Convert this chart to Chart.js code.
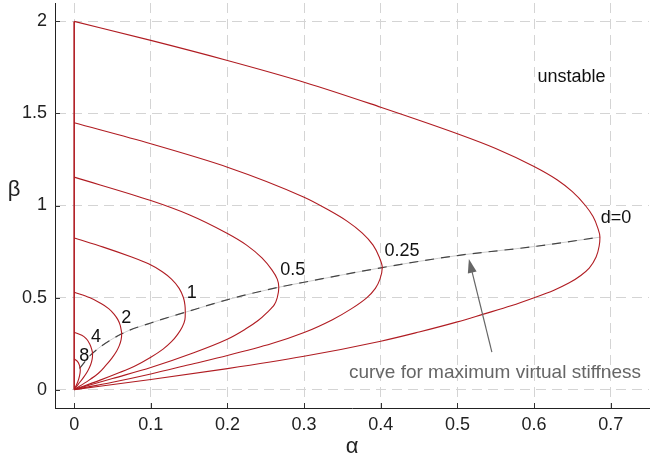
<!DOCTYPE html>
<html>
<head>
<meta charset="utf-8">
<script src="https://cdn.jsdelivr.net/npm/chart.js@4.4.1/dist/chart.umd.min.js"></script>
<style>
    body { margin: 0; background: #fff; }
    #wrap { width: 653px; height: 459px; }
</style>
</head>
<body>
<div id="wrap"><canvas id="stabChart" width="653" height="459"></canvas></div>
<script>
// Stability boundaries in the (alpha, beta) plane, one curve per damping d
// points: [alpha, beta], ordered from the top of each curve down

const curveD0 = [[0, 2.0], [0.1, 1.897], [0.2, 1.788], [0.3, 1.67], [0.4, 1.534], [0.5, 1.39],
    [0.55, 1.31], [0.6, 1.212], [0.63, 1.14], [0.65, 1.075], [0.667, 1.0], [0.677, 0.94],
    [0.683, 0.88], [0.686, 0.828], [0.685, 0.78], [0.681, 0.72], [0.672, 0.66], [0.661, 0.62],
    [0.646, 0.58], [0.626, 0.54], [0.601, 0.5], [0.57, 0.455], [0.534, 0.41], [0.5, 0.368],
    [0.45, 0.313], [0.4, 0.263], [0.3, 0.181], [0.2, 0.114], [0.1, 0.055], [0, 0]];
const curveD025 = [[0, 1.449], [0.1, 1.335], [0.2, 1.208], [0.3, 1.045], [0.332, 0.975],
    [0.356, 0.915], [0.376, 0.85], [0.39, 0.785], [0.398, 0.72], [0.402, 0.663], [0.399, 0.6],
    [0.393, 0.55], [0.382, 0.5], [0.362, 0.44], [0.337, 0.38], [0.3, 0.31], [0.258, 0.25],
    [0.2, 0.185], [0.15, 0.135], [0.1, 0.085], [0.05, 0.04], [0, 0]];
const curveD05 = [[0, 1.154], [0.1, 1.027], [0.15, 0.95], [0.2, 0.848], [0.225, 0.785],
    [0.245, 0.715], [0.258, 0.65], [0.265, 0.6], [0.267, 0.556], [0.265, 0.5], [0.261, 0.46],
    [0.252, 0.42], [0.24, 0.375], [0.224, 0.33], [0.199, 0.272], [0.156, 0.2], [0.1, 0.12],
    [0.05, 0.06], [0, 0]];
const curveD1 = [[0, 0.823], [0.038, 0.774], [0.075, 0.72], [0.097, 0.683], [0.115, 0.64],
    [0.127, 0.6], [0.137, 0.55], [0.1425, 0.5], [0.1445, 0.46], [0.145, 0.42], [0.1445, 0.38],
    [0.141, 0.34], [0.135, 0.3], [0.127, 0.26], [0.116, 0.22], [0.1, 0.176], [0.08, 0.13],
    [0.06, 0.094], [0.033, 0.05], [0, 0]];
const curveD2 = [[0, 0.529], [0.02, 0.5], [0.034, 0.47], [0.045, 0.44], [0.052, 0.41],
    [0.057, 0.38], [0.06, 0.35], [0.0615, 0.32], [0.062, 0.303], [0.0612, 0.27], [0.059, 0.24],
    [0.0555, 0.21], [0.049, 0.17], [0.041, 0.13], [0.032, 0.09], [0.019, 0.05], [0, 0]];
const curveD4 = [[0, 0.311], [0.01, 0.295], [0.016, 0.275], [0.02, 0.25], [0.0228, 0.22],
    [0.024, 0.195], [0.0235, 0.165], [0.0215, 0.135], [0.0175, 0.1], [0.012, 0.065],
    [0.0055, 0.03], [0, 0]];
const curveD8 = [[0, 0.167], [0.0045, 0.152], [0.007, 0.13], [0.008, 0.105], [0.007, 0.075],
    [0.0045, 0.04], [0, 0]];
const leftEdge = [[0, 0], [0, 2]];

// curve for maximum virtual stiffness (through the tips)
const maxStiffness = [[0.007, 0.115], [0.022, 0.19], [0.062, 0.303], [0.1, 0.362], [0.145, 0.42],
    [0.204, 0.493], [0.267, 0.556], [0.3, 0.583], [0.402, 0.663], [0.5, 0.728], [0.6, 0.777],
    [0.686, 0.828]];

const xTicks = [0, 0.1, 0.2, 0.3, 0.4, 0.5, 0.6, 0.7];
const yTicks = [0, 0.5, 1, 1.5, 2];

// curve labels: text, alpha, beta (left/middle anchored)
const curveLabels = [
    ['d=0', 0.687, 0.93],
    ['0.25', 0.405, 0.755],
    ['0.5', 0.269, 0.647],
    ['1', 0.147, 0.522],
    ['2', 0.0614, 0.391],
    ['4', 0.022, 0.288],
    ['8', 0.0065, 0.185]
];

const FONT = '"Liberation Sans", Arial, Helvetica, sans-serif';
const RED = '#b01c22';

const toPts = arr => arr.map(p => ({ x: p[0], y: p[1] }));

// each boundary is single valued in beta, so it gets smoothed along the y axis
function redCurve(arr) {
    return {
        data: toPts(arr),
        alongY: true,
        borderColor: RED,
        borderWidth: 1.1,
        pointRadius: 0,
        showLine: true,
        cubicInterpolationMode: 'monotone',
        fill: false
    };
}

// recompute the bezier control points with y as the index axis
const alongYPlugin = {
    id: 'alongY',
    beforeDatasetsDraw(chart) {
        chart.data.datasets.forEach((ds, i) => {
            if (!ds.alongY) return;
            const line = chart.getDatasetMeta(i).dataset;
            if (!line) return;
            line._pointsUpdated = false;
            line.updateControlPoints(chart.chartArea, 'y');
        });
    }
};

const decorPlugin = {
    id: 'decor',
    afterDraw(chart) {
        const ctx = chart.ctx;
        const xs = chart.scales.x;
        const ys = chart.scales.y;
        const area = chart.chartArea;

        ctx.save();
        // inward tick marks
        ctx.strokeStyle = '#333';
        ctx.lineWidth = 1;
        ctx.beginPath();
        xTicks.forEach(v => {
            const px = Math.round(xs.getPixelForValue(v)) + 0.5;
            ctx.moveTo(px, area.bottom);
            ctx.lineTo(px, area.bottom - 5);
        });
        yTicks.forEach(v => {
            const py = Math.round(ys.getPixelForValue(v)) + 0.5;
            ctx.moveTo(area.left, py);
            ctx.lineTo(area.left + 5, py);
        });
        ctx.stroke();

        // curve labels
        ctx.fillStyle = '#111';
        ctx.font = '18px ' + FONT;
        ctx.textAlign = 'left';
        ctx.textBaseline = 'middle';
        curveLabels.forEach(l => {
            ctx.fillText(l[0], xs.getPixelForValue(l[1]), ys.getPixelForValue(l[2]));
        });

        ctx.textAlign = 'center';
        ctx.fillText('unstable', xs.getPixelForValue(0.649), ys.getPixelForValue(1.70));

        ctx.fillStyle = '#666';
        ctx.font = '19px ' + FONT;
        ctx.fillText('curve for maximum virtual stiffness', xs.getPixelForValue(0.549), ys.getPixelForValue(0.092));

        // arrow
        const x1 = xs.getPixelForValue(0.545), y1 = ys.getPixelForValue(0.203);
        const x2 = xs.getPixelForValue(0.515), y2 = ys.getPixelForValue(0.71);
        const ang = Math.atan2(y2 - y1, x2 - x1);
        ctx.strokeStyle = '#666';
        ctx.lineWidth = 1.2;
        ctx.beginPath();
        ctx.moveTo(x1, y1);
        ctx.lineTo(x2 - 10 * Math.cos(ang), y2 - 10 * Math.sin(ang));
        ctx.stroke();
        ctx.fillStyle = '#666';
        ctx.beginPath();
        ctx.moveTo(x2, y2);
        ctx.lineTo(x2 - 14 * Math.cos(ang) + 4.5 * Math.sin(ang), y2 - 14 * Math.sin(ang) - 4.5 * Math.cos(ang));
        ctx.lineTo(x2 - 14 * Math.cos(ang) - 4.5 * Math.sin(ang), y2 - 14 * Math.sin(ang) + 4.5 * Math.cos(ang));
        ctx.closePath();
        ctx.fill();

        // axis titles
        ctx.fillStyle = '#222';
        ctx.font = '22px ' + FONT;
        ctx.textAlign = 'center';
        ctx.fillText('α', (area.left + area.right) / 2, 447);
        ctx.fillText('β', 14, 190);
        ctx.restore();
    }
};

// lower dataset index is drawn on top
new Chart(document.getElementById('stabChart'), {
    type: 'scatter',
    data: {
        datasets: [
            redCurve(curveD0),
            redCurve(curveD025),
            redCurve(curveD05),
            redCurve(curveD1),
            redCurve(curveD2),
            redCurve(curveD4),
            redCurve(curveD8),
            Object.assign(redCurve(leftEdge), { alongY: false, cubicInterpolationMode: 'default', borderWidth: 1.6 }),
            {
                data: toPts(maxStiffness),
                borderColor: '#444',
                borderWidth: 1.2,
                borderDash: [9, 7],
                pointRadius: 0,
                showLine: true,
                cubicInterpolationMode: 'monotone'
            },
            {
                data: toPts(maxStiffness),
                borderColor: '#cdcdcd',
                borderWidth: 1,
                pointRadius: 0,
                showLine: true,
                cubicInterpolationMode: 'monotone'
            }
        ]
    },
    options: {
        responsive: false,
        devicePixelRatio: 1,
        animation: false,
        layout: { padding: { top: 3, right: 4, left: 0, bottom: 0 } },
        plugins: {
            legend: { display: false },
            tooltip: { enabled: false }
        },
        scales: {
            x: {
                type: 'linear',
                min: -0.025,
                max: 0.75,
                afterBuildTicks: scale => { scale.ticks = xTicks.map(v => ({ value: v })); },
                afterFit: scale => { scale.height = 51; scale.paddingLeft = 0; scale.paddingRight = 0; },
                ticks: {
                    color: '#222',
                    padding: 6,
                    font: { size: 18, family: FONT },
                    maxRotation: 0,
                    callback: v => String(v)
                },
                grid: { color: '#d4d4d4', drawTicks: false, lineWidth: 1 },
                border: { display: true, color: '#222', width: 1, dash: [10, 6] }
            },
            y: {
                type: 'linear',
                min: -0.1,
                max: 2.1,
                afterBuildTicks: scale => { scale.ticks = yTicks.map(v => ({ value: v })); },
                afterFit: scale => { scale.width = 55; scale.paddingTop = 0; scale.paddingBottom = 0; },
                ticks: {
                    color: '#222',
                    padding: 8,
                    font: { size: 18, family: FONT },
                    callback: v => String(v)
                },
                grid: { color: '#d4d4d4', drawTicks: false, lineWidth: 1 },
                border: { display: true, color: '#222', width: 1, dash: [10, 6] }
            }
        }
    },
    plugins: [alongYPlugin, decorPlugin]
});
</script>
</body>
</html>
